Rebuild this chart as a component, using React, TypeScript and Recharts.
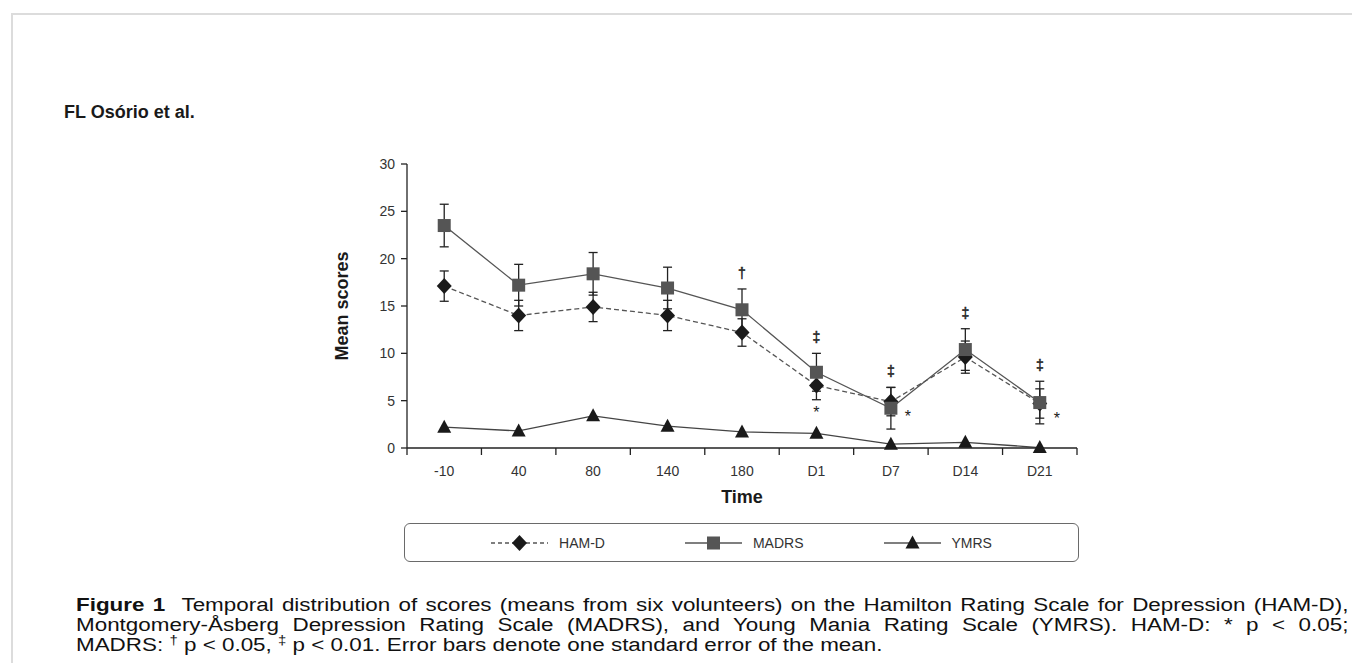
import { ComposedChart, ErrorBar, LabelList, Legend, Line, XAxis, YAxis } from "recharts";

// Figure 1 - mean scores (HAM-D, MADRS, YMRS) over time, error bars = 1 SEM

const TIMES = ["-10", "40", "80", "140", "180", "D1", "D7", "D14", "D21"];
const HAMD = [17.1, 14.0, 14.9, 14.0, 12.2, 6.6, 4.9, 9.6, 4.7];
const HAMD_SE = [1.6, 1.6, 1.55, 1.6, 1.45, 1.5, 1.5, 1.7, 1.55];
const MADRS = [23.5, 17.2, 18.4, 16.9, 14.6, 8.0, 4.2, 10.4, 4.8];
const MADRS_SE = [2.25, 2.2, 2.25, 2.2, 2.2, 2.0, 2.2, 2.2, 2.25];
const YMRS = [2.2, 1.8, 3.4, 2.3, 1.7, 1.55, 0.4, 0.6, 0.05];
const MADRS_SIG = ["", "", "", "", "†", "‡", "‡", "‡", "‡"];
const HAMD_SIG = ["", "", "", "", "", "*", "*", "", "*"];
const Y_TICKS = [0, 5, 10, 15, 20, 25, 30];
// stars for these columns go beside the marker instead of below it
const STAR_BESIDE = new Set(["D7", "D21"]);

const FONT = '"Liberation Sans", Arial, Helvetica, sans-serif';
const INK = "#1a1a1a";
const AXIS = "#222";
const LINE_GRAY = "#555";
const SQUARE = "#555";
const X_TICK_GAP = 18;

const rows = TIMES.map((time, i) => ({
  time,
  hamd: HAMD[i],
  hamdSe: HAMD_SE[i],
  madrs: MADRS[i],
  madrsSe: MADRS_SE[i],
  ymrs: YMRS[i],
  madrsTop: MADRS[i] + MADRS_SE[i],
  hamdLow: HAMD[i] - HAMD_SE[i],
  madrsSig: MADRS_SIG[i],
  hamdSig: HAMD_SIG[i],
}));

const diamond = (cx: number, cy: number) =>
  `M${cx},${cy - 8}L${cx + 7.5},${cy}L${cx},${cy + 8}L${cx - 7.5},${cy}Z`;
const triangle = (cx: number, cy: number) =>
  `M${cx},${cy - 7.5}L${cx + 7},${cy + 5.5}L${cx - 7},${cy + 5.5}Z`;

const renderDiamond = (p: any) => <path key={`d-${p.index}`} d={diamond(p.cx, p.cy)} fill={INK} />;
const renderSquare = (p: any) => (
  <rect key={`s-${p.index}`} x={p.cx - 6.5} y={p.cy - 6.5} width={13} height={13} fill={SQUARE} />
);
const renderTriangle = (p: any) => <path key={`t-${p.index}`} d={triangle(p.cx, p.cy)} fill={INK} />;

// category label + tick marks on the band edges (the original puts ticks between labels)
function TimeTick(props: any) {
  const { x, y, payload, index, visibleTicksCount, width } = props;
  const band = (width || 670) / (visibleTicksCount || TIMES.length);
  const axisY = y - X_TICK_GAP;
  const edges = [x - band / 2];
  if (index === (visibleTicksCount || TIMES.length) - 1) edges.push(x + band / 2);
  return (
    <g>
      {edges.map((ex) => (
        <line key={ex} x1={ex} x2={ex} y1={axisY} y2={axisY + 7} stroke={AXIS} strokeWidth={1.3} />
      ))}
      <text x={x} y={y + 10} textAnchor="middle" fontSize={14} fill="#333" fontFamily={FONT}>
        {payload.value}
      </text>
    </g>
  );
}

function MadrsMark(props: any) {
  const { x, y, value } = props;
  if (!value) return null;
  return (
    <text
      x={x}
      y={y - 16}
      textAnchor="middle"
      dominantBaseline="central"
      fontSize={14}
      fill="#222"
      stroke="#222"
      strokeWidth={0.5}
      opacity={0.99}
      fontFamily={FONT}
    >
      {value}
    </text>
  );
}

function HamdMark(props: any) {
  const { x, y, value, index } = props;
  if (!value) return null;
  const beside = STAR_BESIDE.has(TIMES[index]);
  const cx = beside ? x + 17 : x;
  const cy = beside ? y - 3 : y + 9;
  return (
    <text x={cx} y={cy + 9} textAnchor="middle" fontSize={16} fill={INK} fontFamily={FONT}>
      {value}
    </text>
  );
}

const LEGEND_ITEMS = [
  { name: "HAM-D", dash: "4 3", mark: (cx: number, cy: number) => <path d={diamond(cx, cy)} fill={INK} /> },
  {
    name: "MADRS",
    dash: undefined,
    mark: (cx: number, cy: number) => <rect x={cx - 6.5} y={cy - 6.5} width={13} height={13} fill={SQUARE} />,
  },
  { name: "YMRS", dash: undefined, mark: (cx: number, cy: number) => <path d={triangle(cx, cy)} fill={INK} /> },
];

function LegendBox() {
  return (
    <div style={{ height: 62, paddingTop: 19, paddingBottom: 4, boxSizing: "border-box" }}>
      <div
        style={{
          height: 39,
          boxSizing: "border-box",
          border: "1.3px solid #6a6a6a",
          borderRadius: 6,
          display: "flex",
          alignItems: "center",
          justifyContent: "center",
          gap: 80,
        }}
      >
        {LEGEND_ITEMS.map((it) => (
          <div key={it.name} style={{ display: "flex", alignItems: "center" }}>
            <svg width={57} height={18}>
              <line x1={0} x2={57} y1={9} y2={9} stroke={LINE_GRAY} strokeWidth={1.3} strokeDasharray={it.dash} />
              {it.mark(28.5, 9)}
            </svg>
            <span style={{ marginLeft: 11, fontSize: 14, color: "#333", fontFamily: FONT }}>{it.name}</span>
          </div>
        ))}
      </div>
    </div>
  );
}

const yLabel = (p: any) => {
  const vb = p.viewBox || { x: 0, y: 14, width: 77, height: 284 };
  const x = vb.x + 12;
  const y = vb.y + vb.height / 2;
  return (
    <text
      x={x}
      y={y}
      transform={`rotate(-90, ${x}, ${y})`}
      textAnchor="middle"
      dominantBaseline="central"
      fontSize={18}
      fontWeight="bold"
      fill={INK}
      fontFamily={FONT}
    >
      Mean scores
    </text>
  );
};

const xLabel = (p: any) => {
  const vb = p.viewBox || { x: 77, y: 298, width: 670, height: 56 };
  return (
    <text
      x={vb.x + vb.width / 2}
      y={vb.y + 49}
      textAnchor="middle"
      dominantBaseline="central"
      fontSize={18}
      fontWeight="bold"
      fill={INK}
      fontFamily={FONT}
    >
      Time
    </text>
  );
};

const tickStyle = { fill: "#333", fontSize: 14, fontFamily: FONT };
const captionLine = {
  position: "absolute" as const,
  left: 76,
  width: 1022,
  height: 20,
  lineHeight: "20px",
  fontSize: 18,
  fontFamily: FONT,
  color: "#111",
  whiteSpace: "nowrap" as const,
  transform: "scaleX(1.245)",
  transformOrigin: "0 0",
};

export default function App() {
  return (
    <div
      style={{
        position: "relative",
        width: 1360,
        height: 671,
        margin: -8,
        overflow: "hidden",
        background: "#fff",
        fontFamily: FONT,
      }}
    >
      <div
        style={{
          position: "absolute",
          left: 11,
          top: 13,
          width: 1360,
          height: 680,
          borderTop: "2px solid #dcdcdc",
          borderLeft: "2px solid #dcdcdc",
        }}
      />
      <div style={{ position: "absolute", left: 64, top: 102, fontSize: 18, lineHeight: "20px", fontWeight: "bold", color: INK }}>
        FL Osório et al.
      </div>

      <div style={{ position: "absolute", left: 330, top: 150 }}>
        <ComposedChart width={767} height={416} data={rows} margin={{ top: 14, right: 20, bottom: 0, left: 0 }}>
          <XAxis
            dataKey="time"
            type="category"
            scale="band"
            interval={0}
            height={56}
            tickSize={0}
            tickMargin={X_TICK_GAP}
            axisLine={{ stroke: AXIS, strokeWidth: 1.3 }}
            tickLine={false}
            tick={<TimeTick />}
            label={xLabel}
          />
          <YAxis
            domain={[0, 30]}
            ticks={Y_TICKS}
            width={77}
            tickSize={6}
            tickMargin={6}
            tick={tickStyle}
            axisLine={{ stroke: AXIS, strokeWidth: 1.3 }}
            tickLine={{ stroke: AXIS, strokeWidth: 1.3 }}
            label={yLabel}
          />
          <Legend verticalAlign="bottom" content={<LegendBox />} wrapperStyle={{ left: 74, width: 675, bottom: 0 }} />

          <Line
            dataKey="hamd"
            name="HAM-D"
            stroke={LINE_GRAY}
            strokeWidth={1.3}
            strokeDasharray="5 3"
            dot={renderDiamond}
            activeDot={false}
            isAnimationActive={false}
          >
            <ErrorBar dataKey="hamdSe" width={4.5} stroke={AXIS} strokeWidth={1.3} direction="y" />
          </Line>
          <Line
            dataKey="madrs"
            name="MADRS"
            stroke={LINE_GRAY}
            strokeWidth={1.3}
            dot={renderSquare}
            activeDot={false}
            isAnimationActive={false}
          >
            <ErrorBar dataKey="madrsSe" width={4.5} stroke={AXIS} strokeWidth={1.3} direction="y" />
          </Line>
          <Line
            dataKey="ymrs"
            name="YMRS"
            stroke="#444"
            strokeWidth={1.3}
            dot={renderTriangle}
            activeDot={false}
            isAnimationActive={false}
          />

          {/* significance marks, anchored to the error bar ends */}
          <Line dataKey="madrsTop" stroke="none" dot={false} activeDot={false} legendType="none" isAnimationActive={false}>
            <LabelList dataKey="madrsSig" content={<MadrsMark />} />
          </Line>
          <Line dataKey="hamdLow" stroke="none" dot={false} activeDot={false} legendType="none" isAnimationActive={false}>
            <LabelList dataKey="hamdSig" content={<HamdMark />} />
          </Line>
        </ComposedChart>
      </div>

      <div style={{ ...captionLine, top: 595, textAlignLast: "justify" }}>
        <b>Figure 1</b>&nbsp; Temporal distribution of scores (means from six volunteers) on the Hamilton Rating Scale for
        Depression (HAM-D),
      </div>
      <div style={{ ...captionLine, top: 615, textAlignLast: "justify" }}>
        Montgomery-Åsberg Depression Rating Scale (MADRS), and Young Mania Rating Scale (YMRS). HAM-D: * p {"<"} 0.05;
      </div>
      <div style={{ ...captionLine, top: 635 }}>
        MADRS: <sup style={{ fontSize: 12, lineHeight: 0 }}>†</sup> p {"<"} 0.05,{" "}
        <sup style={{ fontSize: 12, lineHeight: 0 }}>‡</sup> p {"<"} 0.01. Error bars denote one standard error of the
        mean.
      </div>
    </div>
  );
}
